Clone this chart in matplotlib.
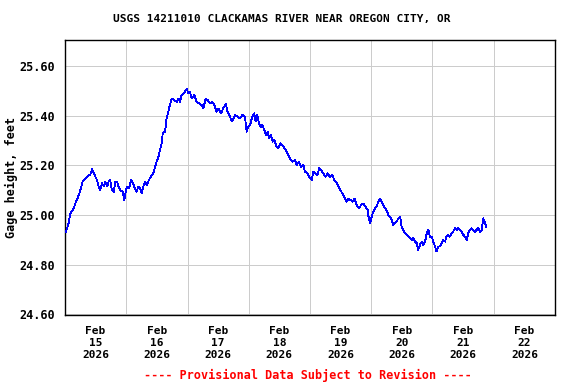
import matplotlib
matplotlib.use("Agg")
import matplotlib.pyplot as plt

# hours since 2026-02-15 00:00 and gage height (ft)
hours = [
    0.4, 1.4, 2.1, 3.4, 4.3, 5.4, 6.4, 6.9, 8.0, 9.0, 9.9, 10.6, 11.2, 11.9,
    12.5, 13.2, 13.8, 14.5, 15.2, 15.8, 16.5, 17.1, 17.7, 18.4, 19.1, 19.7,
    20.4, 21.0, 21.7, 22.6, 23.2, 24.2, 25.1, 25.9, 26.6, 27.4, 28.1, 28.7,
    29.4, 30.1, 30.7, 31.3, 32.0, 32.9, 33.7, 34.6, 35.3, 35.9, 36.6, 37.2,
    37.9, 38.3, 39.2, 39.8, 40.5, 41.1, 41.8, 42.8, 43.8, 44.4, 45.1, 45.7,
    46.3, 47.0, 47.7, 48.3, 49.0, 49.6, 50.7, 51.6, 52.5, 53.6, 54.2, 55.1,
    55.9, 56.8, 57.7, 58.5, 59.4, 60.1, 61.1, 62.0, 63.0, 63.7, 64.6, 65.5,
    66.6, 67.5, 68.6, 69.5, 70.5, 71.2, 71.8, 72.5, 73.4, 74.1, 74.7, 75.3,
    76.0, 76.7, 77.3, 78.1, 78.8, 79.4, 80.0, 80.7, 81.4, 82.0, 82.9, 83.6,
    84.4, 85.1, 85.9, 86.9, 87.5, 88.4, 89.1, 90.1, 90.8, 91.7, 92.5, 93.4,
    94.0, 95.1, 96.0, 96.7, 97.3, 98.0, 98.9, 99.6, 100.3, 101.2, 102.1,
    102.9, 103.8, 104.7, 105.5, 106.5, 107.1, 108.0, 108.6, 109.4, 110.4,
    111.0, 111.9, 112.7, 113.4, 114.3, 115.2, 116.0, 116.9, 117.8, 118.6,
    118.8, 119.5, 120.2, 120.8, 121.5, 122.1, 122.8, 123.4, 124.1, 124.7,
    125.4, 126.0, 126.7, 127.3, 128.0, 128.6, 129.3, 130.0, 130.6, 131.3,
    131.9, 132.6, 133.2, 133.9, 134.5, 135.2, 135.8, 136.5, 137.1, 137.8,
    138.4, 139.1, 139.8, 140.4, 141.1, 141.8, 142.4, 143.0, 143.7, 144.3,
    145.0, 145.6, 146.3, 146.9, 147.6, 148.2, 148.9, 149.5, 150.2, 150.8,
    151.5, 152.1, 152.8, 153.5, 154.1, 154.8, 155.4, 156.1, 156.7, 157.4,
    158.0, 158.7, 159.3, 160.0, 160.6, 161.3, 161.9, 162.6, 163.3, 163.9,
    164.6, 165.0,
]
gage_ft = [
    24.933, 24.967, 25.007, 25.027, 25.054, 25.080, 25.115, 25.135, 25.148,
    25.158, 25.162, 25.185, 25.170, 25.155, 25.142, 25.115, 25.100, 25.128,
    25.115, 25.135, 25.115, 25.135, 25.142, 25.100, 25.094, 25.135, 25.135,
    25.115, 25.100, 25.094, 25.060, 25.115, 25.108, 25.142, 25.128, 25.108,
    25.094, 25.115, 25.108, 25.088, 25.115, 25.135, 25.121, 25.142, 25.155,
    25.168, 25.195, 25.215, 25.235, 25.262, 25.290, 25.330, 25.336, 25.390,
    25.417, 25.444, 25.470, 25.464, 25.457, 25.470, 25.457, 25.484, 25.490,
    25.497, 25.510, 25.490, 25.497, 25.470, 25.484, 25.457, 25.450, 25.444,
    25.430, 25.470, 25.464, 25.450, 25.457, 25.444, 25.417, 25.430, 25.410,
    25.430, 25.450, 25.417, 25.397, 25.377, 25.404, 25.397, 25.390, 25.404,
    25.397, 25.336, 25.356, 25.363, 25.397, 25.410, 25.377, 25.404, 25.370,
    25.356, 25.363, 25.343, 25.323, 25.336, 25.310, 25.323, 25.296, 25.303,
    25.276, 25.270, 25.290, 25.283, 25.270, 25.256, 25.242, 25.222, 25.215,
    25.222, 25.202, 25.215, 25.195, 25.202, 25.175, 25.168, 25.148, 25.142,
    25.175, 25.168, 25.162, 25.189, 25.182, 25.168, 25.155, 25.168, 25.155,
    25.162, 25.142, 25.128, 25.115, 25.100, 25.088, 25.074, 25.054, 25.067,
    25.060, 25.054, 25.067, 25.040, 25.027, 25.040, 25.047, 25.034, 25.020,
    25.000, 24.967, 24.994, 25.014, 25.027, 25.034, 25.054, 25.067, 25.054,
    25.040, 25.027, 25.020, 25.000, 24.994, 24.980, 24.960, 24.967, 24.974,
    24.987, 24.994, 24.953, 24.940, 24.927, 24.920, 24.913, 24.907, 24.900,
    24.907, 24.893, 24.887, 24.860, 24.880, 24.893, 24.880, 24.893, 24.930,
    24.940, 24.910, 24.913, 24.893, 24.873, 24.853, 24.873, 24.873, 24.887,
    24.900, 24.893, 24.913, 24.920, 24.913, 24.927, 24.933, 24.947, 24.940,
    24.947, 24.940, 24.933, 24.920, 24.913, 24.900, 24.927, 24.940, 24.947,
    24.940, 24.933, 24.940, 24.947, 24.933, 24.940, 24.987, 24.967, 24.953,
]

days = ["15", "16", "17", "18", "19", "20", "21", "22"]
y_ticks = [24.6, 24.8, 25.0, 25.2, 25.4, 25.6]

font = "DejaVu Sans Mono"

fig = plt.figure(figsize=(5.76, 3.84), dpi=100)
ax = fig.add_axes([65 / 576, 1 - 315 / 384, 490 / 576, 275 / 384])

ax.plot(hours, gage_ft, color="#0000ff", linewidth=0.6, antialiased=False, zorder=3)

ax.set_xlim(0, 192)
ax.set_ylim(24.597, 25.706)

ax.set_xticks([12 + 24 * i for i in range(len(days))])
ax.set_xticklabels([f"Feb\n{d}\n2026" for d in days], fontfamily=font,
                   fontweight="bold", fontsize=8, linespacing=1.25)
ax.set_xticks([24 * i for i in range(1, 8)], minor=True)
ax.set_yticks(y_ticks)
ax.set_yticklabels([f"{v:.2f}" for v in y_ticks], fontfamily=font,
                   fontweight="bold", fontsize=8.5)

ax.tick_params(axis="both", which="both", length=0)
ax.tick_params(axis="x", pad=8)
ax.tick_params(axis="y", pad=7)
ax.grid(axis="y", which="major", color="#cccccc", linewidth=0.6, antialiased=False)
ax.grid(axis="x", which="minor", color="#cccccc", linewidth=0.6, antialiased=False)
for s in ax.spines.values():
    s.set_linewidth(1.0)

ax.set_ylabel("Gage height, feet", fontfamily=font, fontweight="bold", fontsize=8.5)
ax.yaxis.set_label_coords(-47 / 490, 0.5)

fig.text(0.49, 1 - 19 / 384, "USGS 14211010 CLACKAMAS RIVER NEAR OREGON CITY, OR",
         ha="center", va="center", fontfamily=font, fontweight="bold", fontsize=8)
fig.text(308 / 576, 1 - 375 / 384, "---- Provisional Data Subject to Revision ----",
         ha="center", va="center", fontfamily=font, fontweight="bold",
         fontsize=8.5, color="#ff0000")

fig.savefig("out.png", dpi=100)
